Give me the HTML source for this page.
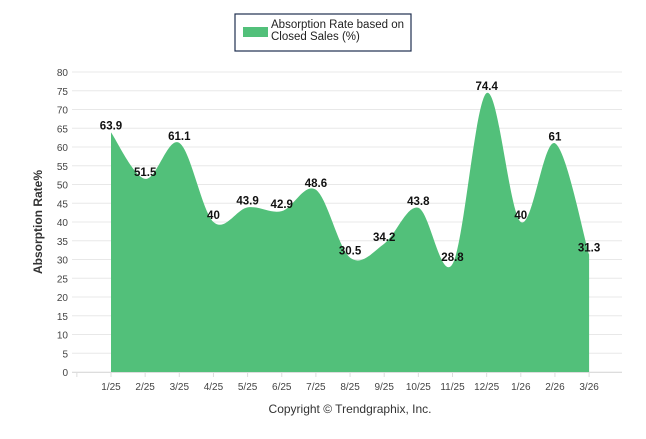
<!DOCTYPE html>
<html><head><meta charset="utf-8"><style>
body{margin:0;background:#fff;font-family:"Liberation Sans",sans-serif}
</style></head><body>
<svg id="c" width="646" height="434" xmlns="http://www.w3.org/2000/svg">
<g>
<rect x="235" y="14" width="176" height="37" fill="#fff" stroke="#1f2f4f" stroke-width="1.2"/>
<rect x="243" y="27" width="25" height="10" fill="#52c07a"/>
<text x="271" y="28" font-size="11.5" fill="#222">Absorption Rate based on</text>
<text x="271" y="40" font-size="11.5" fill="#222">Closed Sales (%)</text>
</g>
<text transform="translate(42,222) rotate(-90)" text-anchor="middle" font-size="12" font-weight="bold" fill="#333">Absorption Rate%</text>
<text x="350" y="413" text-anchor="middle" font-size="12" fill="#333">Copyright © Trendgraphix, Inc.</text>
<g id="grid"></g><g id="area"></g><g id="labels"></g>
</svg>
<script>
const categories=["1/25","2/25","3/25","4/25","5/25","6/25","7/25","8/25","9/25","10/25","11/25","12/25","1/26","2/26","3/26"];
const values=[63.9,51.5,61.1,40,43.9,42.9,48.6,30.5,34.2,43.8,28.8,74.4,40,61,31.3];
const yTicks=[0,5,10,15,20,25,30,35,40,45,50,55,60,65,70,75,80];
const NS="http://www.w3.org/2000/svg";
const y=v=>372-v*3.75, x=i=>111+i*34.15;
function el(t,a,p){const e=document.createElementNS(NS,t);for(const k in a)e.setAttribute(k,a[k]);p.appendChild(e);return e;}
const g=document.getElementById('grid');
yTicks.forEach(v=>{
 const l=el('line',{x1:72,x2:622,y1:y(v),y2:y(v),stroke:'#e8e8e8'},g);
 
 
 const t=el('text',{x:68,y:y(v)+4,'text-anchor':'end','font-size':10,fill:'#444'},g);
 
 
 t.textContent=v;
});
el('line',{x1:72,x2:622,y1:372.5,y2:372.5,stroke:'#ddd'},g);
for(let i=-1;i<categories.length;i++){el('line',{x1:x(i),x2:x(i),y1:372,y2:377,stroke:'#ddd'},g);}
categories.forEach((c,i)=>{
 const t=el('text',{x:x(i),y:390,'text-anchor':'middle','font-size':10,fill:'#444'},g);
 
 
 t.textContent=c;
});
const P=values.map((v,i)=>[x(i),y(v)]);
let d=`M${P[0][0]},${y(0)} L${P[0][0]},${P[0][1]}`;
for(let i=0;i<P.length-1;i++){
 const p0=P[i-1]||P[i],p1=P[i],p2=P[i+1],p3=P[i+2]||P[i+1];
 const c1=[p1[0]+(p2[0]-p0[0])/6,p1[1]+(p2[1]-p0[1])/6],c2=[p2[0]-(p3[0]-p1[0])/6,p2[1]-(p3[1]-p1[1])/6];
 d+=` C${c1[0]},${c1[1]} ${c2[0]},${c2[1]} ${p2[0]},${p2[1]}`;
}
d+=` L${P[P.length-1][0]},${y(0)} Z`;
const a=el('path',{d:d,fill:'#52c07a'},document.getElementById('area'));


const L=document.getElementById('labels');
values.forEach((v,i)=>{
 const t=el('text',{x:x(i),y:y(v)-3,'text-anchor':'middle','font-size':11.5,'font-weight':'bold',fill:'#111'},L);
 
 
 t.textContent=v;
});
</script>
</body></html>
